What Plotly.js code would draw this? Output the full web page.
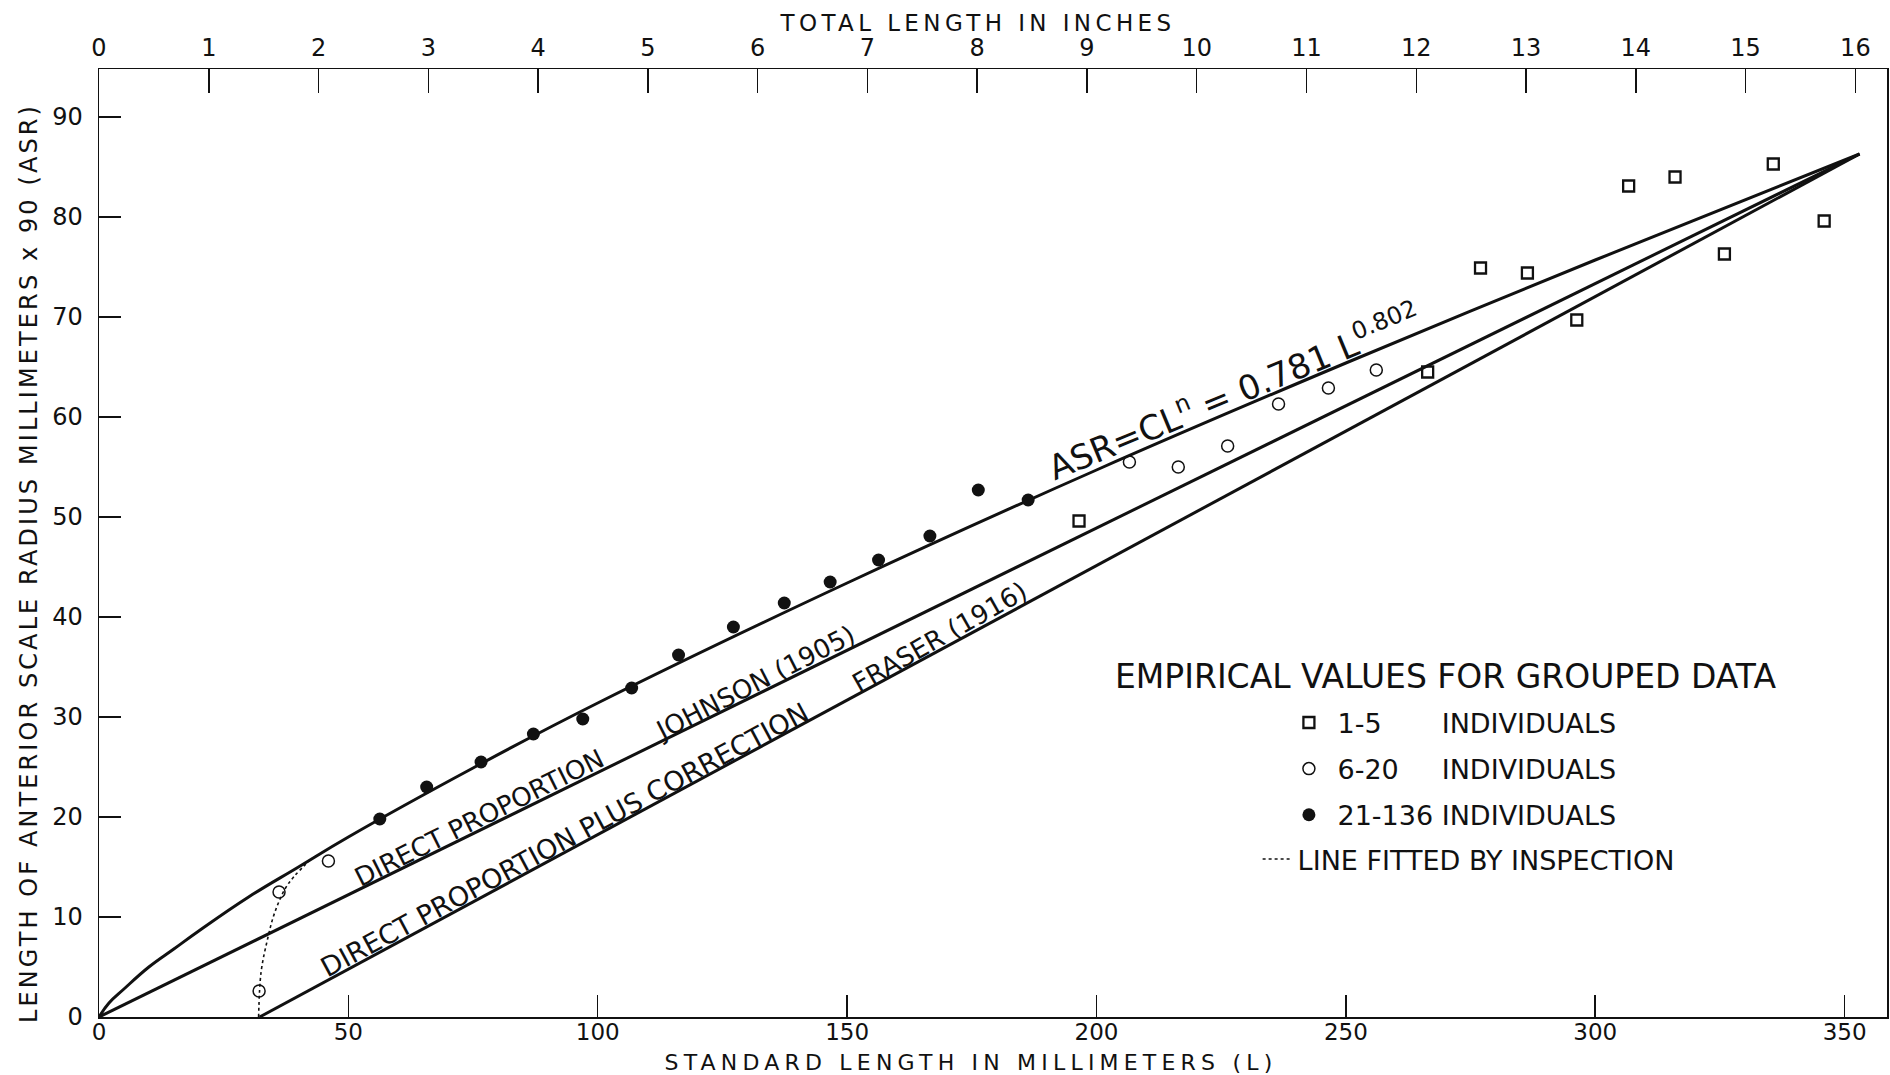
<!DOCTYPE html>
<html>
<head>
<meta charset="utf-8">
<script src="https://cdn.plot.ly/plotly-3.0.1.min.js"></script>
<style>
  html, body { margin: 0; padding: 0; background: #ffffff; }
  #chart { width: 1890px; height: 1075px; }
  .xtitle { letter-spacing: 5.2px; }
  .x2title { letter-spacing: 4.4px; }
  .ytitle { letter-spacing: 3.1px; }
</style>
</head>
<body>
<div id="chart"></div>
<script>
// ---------------- data ----------------
// standard length L (mm) and anterior scale radius x 90 (ASR)
const squaresL   = [196.5, 266.4, 277.0, 286.4, 296.3, 306.7, 316.0, 325.9, 335.7, 345.9];
const squaresASR = [49.6, 64.5, 74.9, 74.4, 69.7, 83.1, 84.0, 76.3, 85.3, 79.6];

const openL   = [32.1, 36.1, 46.0, 206.6, 216.4, 226.3, 236.5, 246.5, 256.1];
const openASR = [2.6, 12.5, 15.6, 55.5, 55.0, 57.1, 61.3, 62.9, 64.7];

const filledL   = [56.3, 65.7, 76.6, 87.1, 97.0, 106.8, 116.2, 127.2, 137.4, 146.6, 156.3, 166.6, 176.3, 186.3];
const filledASR = [19.8, 23.0, 25.5, 28.3, 29.8, 32.9, 36.2, 39.0, 41.4, 43.5, 45.7, 48.1, 52.7, 51.7];

// curve ASR = 0.781 L^0.802 as traced on the figure
const powerL   = [0, 2, 5, 10, 15, 20, 30, 40, 50, 75, 100, 150, 200, 250, 300, 353];
const powerASR = [0, 1.4, 2.8, 5.0, 6.8, 8.6, 12.0, 15.0, 18.0, 24.9, 31.4, 43.4, 54.7, 65.4, 75.7, 86.3];

// direct proportion, Johnson (1905)
const johnsonL   = [0, 353];
const johnsonASR = [0, 86.3];

// direct proportion plus correction, Fraser (1916)
const fraserL   = [32.2, 353];
const fraserASR = [0, 86.3];

// line fitted by inspection (dotted)
const fittedL   = [32.0, 32.5, 33.8, 35.2, 37.4, 39.2, 42.5];
const fittedASR = [0, 4.5, 7.8, 10.4, 12.9, 14.1, 15.8];

// axis ticks
const mmTicks   = [0, 50, 100, 150, 200, 250, 300, 350];
const asrTicks  = [0, 10, 20, 30, 40, 50, 60, 70, 80, 90];
const inchTicks = [0, 1, 2, 3, 4, 5, 6, 7, 8, 9, 10, 11, 12, 13, 14, 15, 16];
const mmPerInch = 22.01;   // 16 in. total length ~ 352 mm standard length on this chart

// texts
const nb = "\u00a0";
const xTitle  = "STANDARD LENGTH IN MILLIMETERS (L)";
const x2Title = "TOTAL LENGTH IN INCHES";
const yTitle  = "LENGTH OF ANTERIOR SCALE RADIUS MILLIMETERS x 90 (ASR)";
const legendTitle = "EMPIRICAL VALUES FOR GROUPED DATA";
const nameSquares = nb + "1-5" + nb.repeat(7) + "INDIVIDUALS";
const nameOpen    = nb + "6-20" + nb.repeat(5) + "INDIVIDUALS";
const nameFilled  = nb + "21-136" + nb + "INDIVIDUALS";
const nameFitted  = "LINE FITTED BY INSPECTION";

// ---------------- chart ----------------
const FONT = "DejaVu Sans, Verdana, sans-serif";
const INK = "#111111";
const xMax = 358.5;

const traces = [
  { x: powerL, y: powerASR, mode: "lines", line: { color: INK, width: 3, shape: "spline", smoothing: 1.2 },
    showlegend: false, hoverinfo: "skip" },
  { x: johnsonL, y: johnsonASR, mode: "lines", line: { color: INK, width: 3 },
    showlegend: false, hoverinfo: "skip" },
  { x: fraserL, y: fraserASR, mode: "lines", line: { color: INK, width: 3 },
    showlegend: false, hoverinfo: "skip" },
  { x: fittedL, y: fittedASR, mode: "lines", name: nameFitted, legend: "legend2",
    line: { color: INK, width: 1.6, dash: "dot", shape: "spline" } },
  { x: squaresL, y: squaresASR, mode: "markers", name: nameSquares, legendgroup: "a",
    marker: { symbol: "square-open", size: 11, color: INK, line: { width: 2.3, color: INK } } },
  { x: openL, y: openASR, mode: "markers", name: nameOpen, legendgroup: "b",
    marker: { symbol: "circle-open", size: 12, color: INK, line: { width: 1.5, color: INK } } },
  { x: filledL, y: filledASR, mode: "markers", name: nameFilled, legendgroup: "c",
    marker: { symbol: "circle", size: 13, color: INK, line: { width: 0 } } },
  // carrier for the top (inch) axis
  { x: inchTicks, y: inchTicks.map(() => null), xaxis: "x2", mode: "markers",
    marker: { opacity: 0 }, showlegend: false, hoverinfo: "skip" }
];

const axisCommon = {
  showgrid: false, zeroline: false, showline: true, linecolor: INK, linewidth: 1.5,
  ticks: "inside", tickcolor: INK, tickwidth: 1.5,
  tickfont: { family: FONT, size: 24, color: INK }
};

const annFont = (s) => ({ family: FONT, size: s, color: INK });

const layout = {
  width: 1890, height: 1075,
  margin: { l: 99, r: 3, t: 69, b: 58, pad: 0 },
  paper_bgcolor: "#ffffff", plot_bgcolor: "#ffffff",
  font: { family: FONT, color: INK },
  xaxis: Object.assign({}, axisCommon, {
    range: [0, xMax], tickvals: mmTicks, ticklen: 22, ticklabelstandoff: -6,
    tickfont: { family: FONT, size: 23, color: INK },
    title: { text: xTitle, font: { family: FONT, size: 22, color: INK }, standoff: 12 }
  }),
  xaxis2: Object.assign({}, axisCommon, {
    overlaying: "x", side: "top", anchor: "y",
    range: [0, xMax / mmPerInch], tickvals: inchTicks, ticklen: 24, ticklabelstandoff: 2,
    title: { text: x2Title, font: { family: FONT, size: 23, color: INK }, standoff: 2 }
  }),
  yaxis: Object.assign({}, axisCommon, {
    range: [0, 94.8], tickvals: asrTicks, ticklen: 22, mirror: true, ticklabelstandoff: 10,
    title: { text: yTitle, font: { family: FONT, size: 24, color: INK }, standoff: 8 }
  }),
  showlegend: true,
  legend: {
    x: 0.6655, y: 0.336, xref: "paper", yref: "paper", xanchor: "left", yanchor: "top",
    font: { family: FONT, size: 27, color: INK }, bgcolor: "rgba(0,0,0,0)",
    borderwidth: 0, tracegroupgap: 8, traceorder: "grouped", itemclick: false, itemdoubleclick: false
  },
  legend2: {
    x: 0.648, y: 0.192, xref: "paper", yref: "paper", xanchor: "left", yanchor: "top",
    font: { family: FONT, size: 27, color: INK }, bgcolor: "rgba(0,0,0,0)",
    borderwidth: 0, itemclick: false, itemdoubleclick: false
  },
  annotations: [
    { xref: "paper", yref: "paper", x: 0.7528, y: 0.3597, xanchor: "center", yanchor: "middle",
      text: legendTitle, showarrow: false, font: annFont(33) },
    { x: 76.2, y: 19.9, text: "DIRECT PROPORTION", textangle: -26.5, showarrow: false, font: annFont(26) },
    { x: 131.5, y: 33.4, text: "JOHNSON (1905)", textangle: -27, showarrow: false, font: annFont(26) },
    { x: 93.4, y: 17.8, text: "DIRECT PROPORTION PLUS CORRECTION", textangle: -28.2, showarrow: false, font: annFont(27) },
    { x: 168.6, y: 38.0, text: "FRASER (1916)", textangle: -29.5, showarrow: false, font: annFont(26) },
    { x: 227.5, y: 62.6, text: "ASR=CL<sup>n</sup> = 0.781 L<sup>0.802</sup>", textangle: -22.5,
      showarrow: false, font: annFont(34) }
  ]
};

// small offsets so the axis titles sit where they sit on the original sheet
function nudge(sel, dx, dy) {
  const el = document.querySelector(sel);
  if (!el) return;
  const t = el.getAttribute("transform") || "";
  el.setAttribute("transform", "translate(" + dx + "," + dy + ") " + t);
}

Plotly.newPlot("chart", traces, layout, { staticPlot: true, displayModeBar: false }).then(function () {
  nudge(".xtitle", -22, 0);
  nudge(".x2title", -15, 6);
  nudge(".ytitle", 0, 20);
});
</script>
</body>
</html>
